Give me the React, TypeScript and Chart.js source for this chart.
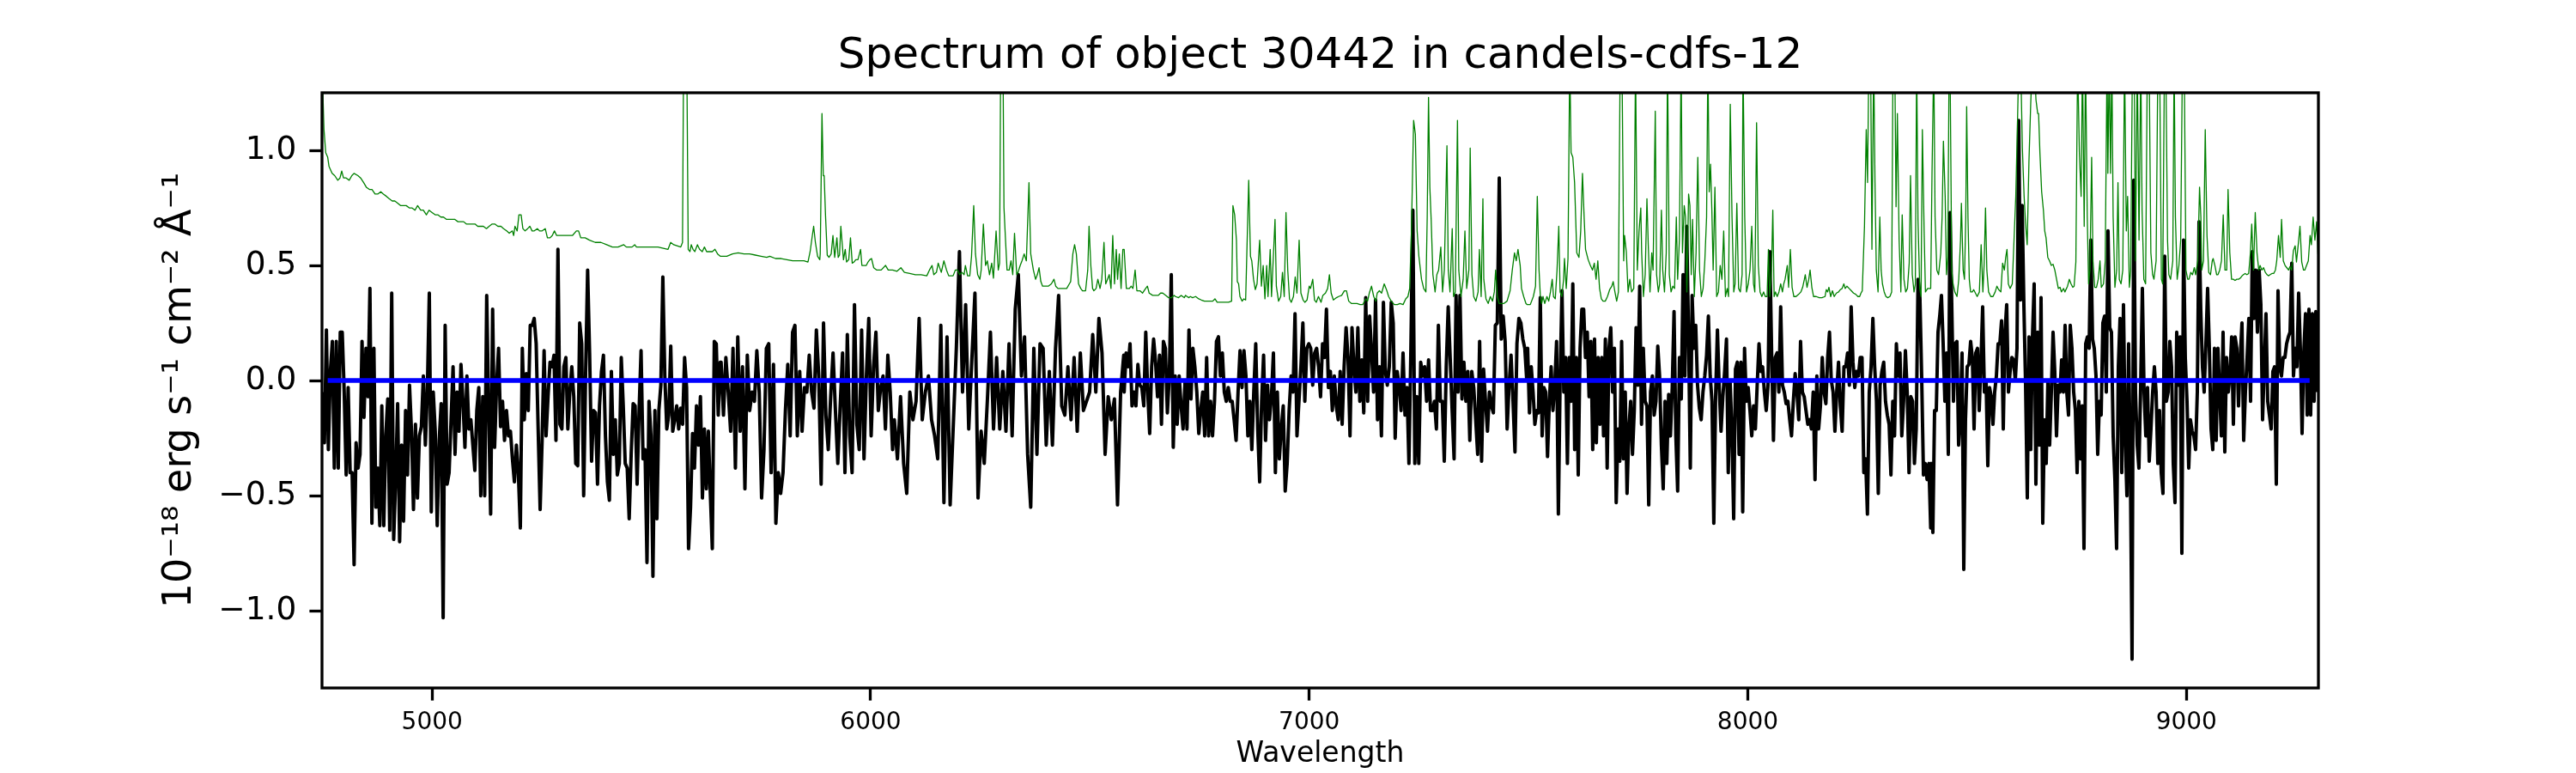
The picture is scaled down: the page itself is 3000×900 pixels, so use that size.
import React, { useEffect, useRef } from 'react';
import Chart from 'chart.js/auto';

const TITLE = 'Spectrum of object 30442 in candels-cdfs-12';
const X_LABEL = 'Wavelength';
const Y_LABEL = '10⁻¹⁸ erg s⁻¹ cm⁻² Å⁻¹';

const X_RANGE = [4749, 9301];
const Y_RANGE = [-1.335, 1.25];
const X_TICKS = [5000, 6000, 7000, 8000, 9000];
const Y_TICKS = [-1.0, -0.5, 0.0, 0.5, 1.0];

const FLUX_STRETCHES = [
  [4750, 5657],
  [5659, 6050],
  [6054, 6577],
  [6578, 7496],
  [7498, 8417],
  [8418, 9299],
];

const flux1 = [
  -0.05, -0.27, 0.22, -0.3, 0.04, 0.17, -0.38, 0.17, -0.38, 0.21,
  0.21, -0.05, -0.41, -0.03, -0.4, -0.4, -0.8, -0.27, -0.38, -0.32,
  0.17, -0.16, 0.14, -0.07, 0.4, -0.62, 0.14, -0.55, -0.38, -0.63,
  -0.11, -0.63, -0.24, -0.08, -0.65, 0.38, -0.69, -0.43, -0.1, -0.7,
  -0.28, -0.61, -0.13, -0.41, -0.02, -0.22, -0.56, -0.19, -0.51, -0.24,
  -0.2, 0.02, -0.28, -0.05, 0.38, -0.57, -0.05, -0.22, -0.63, -0.26,
  -0.1, -1.03, 0.24, -0.45, -0.4, -0.17, 0.06, -0.32, -0.05, -0.22,
  0.07, -0.09, -0.29, 0.02, -0.21, -0.17, -0.28, -0.39, -0.13, -0.03,
  -0.5, -0.07, -0.5, 0.37, -0.13, -0.58, 0.31, -0.29, -0.02, 0.14,
  -0.2, -0.09, -0.26, -0.13, -0.24, -0.22, -0.34, -0.44, -0.28, -0.4,
  -0.64, 0.14, -0.17, 0.03, -0.13, 0.24, 0.24, 0.27, 0.16, -0.21,
  -0.56, -0.26, 0.13, -0.24, -0.07, 0.08, 0.06, 0.11, -0.26, 0.57,
  -0.19, -0.21, 0.06, 0.1, -0.21, -0.05, 0.06, -0.07, -0.36, -0.37,
  0.25, 0.16, -0.5, 0.04, 0.48, 0.12, -0.35, -0.13, -0.14, -0.45,
  -0.11, 0.04, 0.11, -0.24, -0.44, -0.52, 0.04, -0.32, -0.17, -0.41,
  -0.36, 0.1, -0.11, -0.36, -0.38, -0.6, -0.32, -0.1, -0.11, -0.45,
  -0.13, 0.13, -0.34, -0.3, -0.79, -0.09, -0.24, -0.85, -0.13, -0.6,
  -0.13, -0.02, 0.45, 0.02, -0.21, -0.15, 0.15, -0.22, -0.17, -0.11,
  -0.21, -0.12, -0.19, 0.1, -0.03, -0.73, -0.55, -0.23, -0.38, -0.11,
  -0.28, -0.07, -0.51, -0.21, -0.47, -0.22, -0.49, -0.73, 0.17, 0.16,
  -0.15, 0.08,
];

const flux2 = [
  0.08, -0.15, 0.1, -0.05, -0.22, 0.14, -0.38, 0.19, -0.22, 0.06,
  -0.47, 0.11, -0.13, -0.05, -0.09, 0.13, -0.05, -0.51, -0.3, 0.14,
  0.16, -0.4, 0.07, -0.62, -0.4, -0.49, -0.4, -0.13, 0.07, -0.24,
  0.21, 0.24, -0.24, 0.04, -0.22, -0.03, -0.05, 0.11, -0.05, -0.12,
  0.22, 0.02, -0.45, 0.25, -0.15, -0.3, -0.07, 0.12, -0.13, -0.36,
  -0.11, 0.12, -0.4, 0.2, -0.24, -0.4, 0.33, -0.19, -0.3, 0.22,
  -0.34, 0.02, 0.27, -0.24, 0.06, 0.21, -0.13, -0.03, 0.02, -0.21,
  0.11, -0.05, -0.3,
];

const flux3 = [
  -0.17, -0.34, -0.07, -0.36, -0.49, -0.05, -0.17, -0.09, 0.27, -0.17,
  -0.05, 0.02, -0.17, -0.24, -0.34, 0.24, -0.53, 0.19, -0.54, -0.2,
  0.14, 0.56, -0.05, 0.33, -0.21, 0.09, 0.38, -0.51, -0.22, -0.36,
  -0.09, 0.21, -0.21, 0.1, -0.21, 0.04, -0.22, 0.16, -0.24, 0.31,
  0.46, 0.02, 0.19, -0.32, -0.55, 0.14, -0.32, 0.16, 0.14, -0.28,
  0.04, -0.28, 0.14, 0.37, -0.11, -0.15, 0.06, -0.17, 0.1, -0.22,
  0.12, -0.13, -0.09, -0.05, 0.2, -0.05, 0.27, 0.12, -0.32, -0.07,
  -0.17, -0.08, -0.54, -0.05, 0.11,
];

const flux4 = [
  -0.05, 0.12, 0.06, 0.16, -0.11, -0.05, -0.11, 0.07, -0.02, -0.03,
  -0.11, 0.21, -0.05, -0.23, 0.06, 0.18, 0.08, -0.07, 0.11, -0.19,
  0.17, 0.14, -0.14, 0.02, 0.46, -0.29, 0.02, -0.19, 0.02, -0.11,
  -0.21, 0.0, -0.21, 0.22, -0.08, 0.14, 0.06, -0.05, -0.23, -0.13,
  -0.05, -0.24, 0.1, -0.24, -0.09, -0.24, -0.09, 0.17, 0.19, 0.02,
  0.12, -0.05, -0.09, -0.03, -0.09, -0.09, -0.17, -0.26, -0.05, 0.13,
  -0.03, 0.13, 0.02, -0.24, -0.09, -0.3, -0.05, 0.16, -0.21, -0.44,
  -0.09, 0.11, -0.26, -0.02, -0.17, -0.07, 0.12, -0.4, -0.05, -0.34,
  -0.21, -0.11, -0.48, -0.36, -0.13, 0.02, -0.05, 0.29, -0.24, -0.09,
  0.06, 0.25, -0.09, 0.14, 0.16, 0.14, -0.02, 0.12, 0.14, 0.06,
  -0.07, 0.16, 0.1, 0.31, -0.03, 0.04, -0.13, 0.02, -0.11, -0.17,
  0.04, -0.19, 0.06, 0.23, 0.1, -0.24, 0.23, 0.06, -0.05, 0.23,
  -0.09, 0.09, -0.14, 0.36, -0.09, 0.28, 0.12, -0.05, 0.35, -0.17,
  0.06, -0.24, 0.34, 0.04, -0.02, 0.06, 0.34, 0.25, -0.25, 0.04,
  -0.02, -0.13, 0.12, -0.15, -0.03, -0.36, 0.14, 0.74, -0.36, -0.07,
  -0.36, 0.08, 0.02, 0.06, -0.09, 0.09, -0.13, -0.13, -0.09, -0.21,
  0.24, -0.09, -0.09, -0.35, 0.06, 0.32, 0.1, -0.13, -0.34, 0.37,
  -0.05, 0.37, -0.08, 0.08, -0.09, 0.04, -0.26, 0.04, -0.03, -0.17,
  -0.32, 0.17, -0.35, 0.05, -0.09, -0.22, -0.05, -0.11, -0.14, 0.24,
  0.25, 0.88, 0.18, 0.28, 0.17, -0.21, -0.02, 0.11, -0.09, -0.31,
  0.16, 0.27, 0.25, 0.18, 0.14, 0.0,
];

const flux5 = [
  0.14, -0.14, 0.06, -0.05, -0.19, -0.13, -0.14, 0.36, -0.24, -0.03,
  -0.05, -0.33, -0.09, 0.06, -0.13, -0.02, 0.17, -0.58, 0.02, 0.39,
  -0.05, 0.1, -0.36, 0.1, -0.09, 0.42, -0.3, 0.1, -0.41, 0.14,
  0.31, 0.31, 0.1, 0.21, -0.07, 0.17, -0.3, 0.18, -0.27, 0.1,
  -0.19, 0.1, -0.24, 0.18, -0.38, 0.14, 0.23, -0.05, 0.14, -0.53,
  -0.21, -0.35, 0.17, -0.34, -0.05, -0.49, -0.21, -0.09, -0.32, -0.13,
  0.23, -0.02, 0.41, -0.19, 0.14, -0.09, -0.11, -0.54, -0.05, 0.02,
  -0.15, -0.09, 0.15, 0.02, -0.28, -0.47, -0.09, -0.36, -0.06, -0.24,
  -0.03, 0.3, -0.24, -0.48, 0.1, -0.08, 0.46, 0.02, 0.67, 0.21,
  -0.38, 0.37, 0.14, 0.24, -0.02, -0.12, -0.17, -0.05, 0.02, 0.11,
  0.28, 0.02, -0.09, -0.62, -0.07, 0.22, -0.03, -0.22, -0.07, 0.04,
  0.18, -0.4, 0.0, -0.21, -0.6, 0.05, 0.08, -0.32, 0.08, -0.57,
  0.14, -0.09, -0.03, -0.13, -0.24, -0.11, -0.21, -0.02, 0.16, 0.04,
  0.06, -0.05, -0.13, -0.02, 0.56, 0.12, -0.26, 0.1, 0.12, -0.05,
  0.32, -0.02, -0.05, -0.1, -0.09, -0.17, -0.24, -0.09, 0.03, -0.05,
  -0.17, 0.17, -0.05, -0.07, -0.13, -0.19, -0.17, -0.21, -0.05, -0.43,
  0.02, -0.21, -0.11, 0.1, -0.05, -0.1, 0.1, 0.21, 0.0, -0.05,
  -0.22, -0.05, 0.08, -0.11, -0.22, 0.06, 0.06, 0.12, -0.02, 0.32,
  0.08, -0.03, 0.04, 0.02, 0.1, 0.1, -0.4, -0.34, -0.58, -0.05,
  0.06, 0.27, 0.06, -0.09, -0.49, -0.02, 0.04, 0.08, -0.09, -0.15,
  -0.19, -0.41, -0.09, -0.24, 0.16, 0.02, 0.12, -0.24, -0.09, 0.13,
  -0.05, -0.4, -0.07, -0.09, -0.36, -0.21, 0.44, 0.37, 0.02, -0.41,
  -0.36, -0.43, -0.36, -0.64,
];

const flux6 = [
  -0.36, -0.66, -0.13, -0.13, 0.21, 0.28, 0.37, 0.16, -0.09, 0.12,
  -0.32, 0.73, 0.33, -0.09, 0.16, 0.17, -0.28, -0.15, 0.12, -0.82,
  -0.17, 0.06, 0.07, 0.17, 0.1, -0.21, 0.12, 0.14, -0.13, 0.08,
  0.32, -0.05, 0.0, -0.37, -0.03, -0.07, -0.19, -0.05, 0.02, 0.16,
  0.16, 0.26, -0.21, 0.21, 0.33, -0.05, 0.04, 0.1, 0.09, 0.0,
  0.14, 1.13, 0.35, 0.76, 0.33, -0.02, -0.51, 0.19, -0.3, 0.19,
  0.42, -0.45, 0.21, -0.28, 0.36, -0.62, -0.17, -0.36, 0.0, -0.28,
  -0.05, 0.21, 0.04, -0.24, -0.02, -0.05, 0.09, -0.05, 0.24, -0.05,
  -0.15, 0.24, 0.14, -0.05, -0.13, -0.4, -0.09, -0.34, -0.11, -0.73,
  0.16, 0.19, 0.14, 0.61, 0.18, 0.14, 0.02, -0.32, -0.09, -0.15,
  0.25, 0.28, -0.05, 0.65, 0.23, 0.21, -0.24, -0.43, -0.73, 0.06,
  0.27, -0.4, 0.33, -0.24, -0.5, 0.16, -0.36, -1.21, 0.87, -0.05,
  -0.28, -0.38, -0.03, 0.4, -0.05, -0.24, -0.03, -0.35, -0.21, -0.05,
  0.06, -0.05, -0.36, -0.13, -0.4, -0.49, 0.54, -0.09, -0.05, 0.17,
  0.06, -0.36, -0.53, 0.21, -0.02, 0.19, -0.75, 0.61, 0.1, -0.09,
  -0.38, -0.17, -0.22, -0.24, -0.3, -0.05, 0.69, 0.31, 0.06, -0.05,
  0.16, 0.4, 0.14, -0.21, -0.3, 0.14, -0.26, 0.14, -0.05, -0.24,
  0.21, -0.31, 0.1, -0.05, 0.02, 0.19, -0.19, 0.19, 0.14, -0.11,
  0.1, 0.25, -0.26, -0.05, 0.1, 0.27, -0.09, 0.56, 0.27, 0.48,
  0.21, 0.48, 0.33, -0.17, 0.06, 0.29, -0.09, -0.15, -0.21, 0.04,
  0.06, -0.45, 0.39, 0.06, 0.02, 0.1, 0.1, 0.16, 0.19, 0.21,
  0.51, 0.02, 0.14, 0.06, 0.38, 0.14, -0.23, 0.12, 0.29, -0.15,
  0.31, -0.15, 0.29, -0.09, 0.3, -0.05,
];

const fluxValues = [flux1, flux2, flux3, flux4, flux5, flux6];

// error / sky spectrum (green): [wavelength, value]; tall sky lines run past the top of the frame
const noise: [number, number][] = [
  [4749, 1.4], [4751, 1.25], [4753.5, 1.09], [4757.5, 0.99], [4762, 0.97], [4765, 0.93],
  [4772, 0.9], [4778, 0.89], [4785, 0.87], [4790, 0.88], [4794, 0.91], [4798, 0.88],
  [4804, 0.88], [4811, 0.87], [4817, 0.89], [4822, 0.9], [4831, 0.89], [4837, 0.88],
  [4844, 0.86], [4850, 0.84], [4857, 0.83], [4863, 0.83], [4870, 0.81], [4876, 0.81],
  [4883, 0.82], [4889, 0.81], [4896, 0.8], [4902, 0.79], [4909, 0.78], [4915, 0.78],
  [4922, 0.77], [4928, 0.76], [4935, 0.76], [4941, 0.76], [4948, 0.75], [4954, 0.75],
  [4961, 0.74], [4967, 0.76], [4974, 0.74], [4980, 0.74], [4987, 0.72], [4993, 0.74],
  [5000, 0.73], [5007, 0.72], [5013, 0.72], [5020, 0.71], [5026, 0.71], [5033, 0.7],
  [5039, 0.7], [5046, 0.7], [5052, 0.7], [5059, 0.69], [5065, 0.69], [5072, 0.69],
  [5078, 0.68], [5085, 0.68], [5091, 0.68], [5098, 0.68], [5104, 0.67], [5111, 0.67],
  [5117, 0.67], [5124, 0.66], [5130, 0.67], [5137, 0.68], [5143, 0.68], [5150, 0.67],
  [5157, 0.67], [5163, 0.66], [5170, 0.65], [5176, 0.64], [5183, 0.65], [5186, 0.63],
  [5189, 0.67], [5194, 0.65], [5198, 0.72], [5203, 0.72], [5207, 0.66], [5212, 0.65],
  [5218, 0.66], [5223, 0.67], [5228, 0.65], [5233, 0.65], [5240, 0.66], [5245, 0.65],
  [5251, 0.65], [5258, 0.66], [5263, 0.62], [5269, 0.62], [5274, 0.63], [5279, 0.65],
  [5284, 0.63], [5293, 0.63], [5306, 0.63], [5320, 0.63], [5329, 0.65], [5334, 0.65],
  [5339, 0.62], [5349, 0.62], [5359, 0.61], [5372, 0.6], [5385, 0.6], [5398, 0.59],
  [5411, 0.58], [5424, 0.58], [5437, 0.59], [5443, 0.58], [5450, 0.58], [5456, 0.58],
  [5462, 0.59], [5466, 0.58], [5489, 0.58], [5515, 0.58], [5538, 0.57], [5544, 0.6],
  [5551, 0.59], [5567, 0.58], [5571, 0.6], [5574, 1.6], [5580, 1.6], [5584, 0.57],
  [5588, 0.56], [5591, 0.59], [5595, 0.57], [5599, 0.56], [5605, 0.59], [5610, 0.57],
  [5616, 0.56], [5621, 0.58], [5626, 0.56], [5639, 0.56], [5645, 0.57], [5651, 0.55],
  [5657, 0.54], [5672, 0.54], [5685, 0.55], [5698, 0.555], [5711, 0.55], [5724, 0.55],
  [5737, 0.545], [5750, 0.54], [5763, 0.535], [5770, 0.54], [5783, 0.53], [5796, 0.53],
  [5809, 0.525], [5822, 0.52], [5835, 0.52], [5848, 0.52], [5857, 0.515], [5862, 0.56],
  [5867, 0.63], [5870, 0.67], [5874, 0.6], [5879, 0.54], [5884, 0.525], [5885, 0.55],
  [5889, 1.16], [5892, 0.89], [5894, 0.89], [5897, 0.72], [5901, 0.545], [5905, 0.535],
  [5910, 0.55], [5914, 0.63], [5918, 0.535], [5923, 0.62], [5926, 0.535], [5929, 0.545],
  [5932, 0.67], [5938, 0.525], [5942, 0.57], [5945, 0.515], [5950, 0.525], [5954, 0.62],
  [5958, 0.51], [5962, 0.515], [5966, 0.525], [5971, 0.525], [5977, 0.57], [5980, 0.5],
  [5985, 0.5], [5990, 0.5], [5994, 0.515], [5998, 0.525], [6002, 0.53], [6007, 0.49],
  [6014, 0.48], [6024, 0.48], [6034, 0.5], [6040, 0.48], [6050, 0.48], [6060, 0.475],
  [6069, 0.49], [6077, 0.47], [6089, 0.465], [6102, 0.46], [6115, 0.46], [6128, 0.455],
  [6134, 0.48], [6140, 0.5], [6144, 0.46], [6150, 0.47], [6154, 0.51], [6161, 0.47],
  [6167, 0.52], [6173, 0.48], [6178, 0.455], [6183, 0.455], [6188, 0.455], [6193, 0.48],
  [6198, 0.48], [6203, 0.46], [6208, 0.47], [6213, 0.46], [6216, 0.5], [6221, 0.455],
  [6226, 0.455], [6230, 0.54], [6235, 0.76], [6239, 0.55], [6244, 0.46], [6249, 0.44],
  [6252, 0.48], [6257, 0.68], [6262, 0.5], [6266, 0.52], [6271, 0.46], [6276, 0.51],
  [6280, 0.445], [6286, 0.65], [6291, 0.48], [6294, 0.51], [6297, 1.6], [6301, 1.6],
  [6304, 0.75], [6307, 0.63], [6311, 0.48], [6316, 0.48], [6320, 0.52], [6324, 0.46],
  [6328, 0.64], [6333, 0.46], [6336, 0.47], [6341, 0.5], [6345, 0.52], [6350, 0.55],
  [6355, 0.52], [6361, 0.86], [6365, 0.55], [6371, 0.48], [6376, 0.44], [6380, 0.46],
  [6384, 0.49], [6388, 0.43], [6392, 0.41], [6399, 0.41], [6405, 0.41], [6412, 0.42],
  [6418, 0.44], [6422, 0.41], [6427, 0.4], [6434, 0.4], [6441, 0.4], [6447, 0.4],
  [6453, 0.42], [6456, 0.43], [6461, 0.55], [6465, 0.59], [6469, 0.55], [6474, 0.42],
  [6479, 0.4], [6483, 0.39], [6490, 0.39], [6495, 0.48], [6498, 0.67], [6502, 0.5],
  [6506, 0.4], [6509, 0.39], [6514, 0.4], [6518, 0.44], [6523, 0.4], [6527, 0.44],
  [6532, 0.6], [6536, 0.42], [6540, 0.44], [6544, 0.46], [6548, 0.4], [6552, 0.63],
  [6556, 0.42], [6560, 0.57], [6563, 0.44], [6567, 0.55], [6571, 0.4], [6575, 0.57],
  [6578, 0.57], [6583, 0.4], [6590, 0.4], [6594, 0.41], [6598, 0.4], [6603, 0.48],
  [6607, 0.39], [6614, 0.39], [6620, 0.38], [6627, 0.4], [6631, 0.41], [6635, 0.38],
  [6643, 0.37], [6650, 0.37], [6656, 0.37], [6661, 0.38], [6666, 0.38], [6673, 0.37],
  [6679, 0.36], [6686, 0.36], [6692, 0.37], [6695, 0.365], [6702, 0.36], [6708, 0.37],
  [6715, 0.36], [6718, 0.37], [6725, 0.36], [6729, 0.365], [6734, 0.36], [6741, 0.365],
  [6748, 0.355], [6754, 0.35], [6761, 0.345], [6767, 0.345], [6774, 0.345], [6780, 0.345],
  [6785, 0.355], [6790, 0.34], [6797, 0.34], [6803, 0.34], [6810, 0.34], [6816, 0.34],
  [6823, 0.345], [6826, 0.76], [6830, 0.72], [6834, 0.61], [6836, 0.43], [6839, 0.42],
  [6842, 0.365], [6847, 0.345], [6851, 0.355], [6855, 0.35], [6862, 0.87], [6866, 0.54],
  [6869, 0.52], [6873, 0.44], [6877, 0.395], [6881, 0.42], [6887, 0.61], [6891, 0.41],
  [6895, 0.5], [6899, 0.355], [6903, 0.5], [6906, 0.365], [6911, 0.57], [6914, 0.365],
  [6918, 0.53], [6922, 0.7], [6925, 0.41], [6930, 0.345], [6935, 0.365], [6939, 0.47],
  [6943, 0.365], [6947, 0.73], [6951, 0.48], [6955, 0.355], [6959, 0.34], [6964, 0.365],
  [6968, 0.45], [6972, 0.38], [6977, 0.61], [6981, 0.38], [6986, 0.35], [6990, 0.34],
  [6995, 0.35], [7000, 0.41], [7003, 0.4], [7008, 0.44], [7012, 0.35], [7016, 0.34],
  [7021, 0.365], [7027, 0.34], [7031, 0.37], [7037, 0.38], [7042, 0.4], [7046, 0.46],
  [7050, 0.38], [7055, 0.35], [7062, 0.36], [7067, 0.365], [7074, 0.37], [7080, 0.39],
  [7085, 0.39], [7090, 0.345], [7096, 0.335], [7103, 0.335], [7109, 0.335], [7116, 0.33],
  [7122, 0.33], [7129, 0.355], [7133, 0.345], [7137, 0.38], [7142, 0.41], [7147, 0.365],
  [7152, 0.345], [7155, 0.38], [7160, 0.39], [7165, 0.38], [7171, 0.42], [7177, 0.39],
  [7181, 0.365], [7187, 0.345], [7194, 0.33], [7201, 0.33], [7207, 0.335], [7214, 0.33],
  [7220, 0.355], [7225, 0.365], [7229, 0.4], [7233, 0.65], [7238, 1.13], [7242, 1.07],
  [7246, 0.65], [7250, 0.54], [7256, 0.44], [7261, 0.4], [7266, 0.385], [7269, 0.71],
  [7272, 1.23], [7275, 0.84], [7278, 0.7], [7282, 0.46], [7287, 0.385], [7291, 0.46],
  [7295, 0.48], [7300, 0.58], [7304, 0.385], [7308, 0.48], [7314, 1.02], [7317, 0.48],
  [7321, 0.385], [7326, 0.66], [7329, 0.365], [7333, 0.385], [7338, 1.13], [7341, 0.48],
  [7346, 0.365], [7351, 0.44], [7355, 0.65], [7359, 0.4], [7364, 0.48], [7367, 1.01],
  [7371, 0.46], [7375, 0.365], [7380, 0.345], [7385, 0.385], [7388, 0.57], [7392, 0.365],
  [7396, 0.79], [7398, 0.44], [7403, 0.355], [7408, 0.335], [7413, 0.365], [7418, 0.345],
  [7422, 0.385], [7425, 0.48], [7429, 0.365], [7433, 0.335], [7438, 0.335], [7444, 0.335],
  [7451, 0.345], [7458, 0.39], [7463, 0.48], [7468, 0.555], [7472, 0.52], [7476, 0.57],
  [7481, 0.5], [7484, 0.4], [7489, 0.365], [7494, 0.335], [7497, 0.33], [7504, 0.33],
  [7511, 0.365], [7516, 0.41], [7520, 0.8], [7524, 0.48], [7527, 0.365], [7530, 0.335],
  [7533, 0.365], [7537, 0.335], [7542, 0.365], [7546, 0.345], [7550, 0.385], [7554, 0.44],
  [7557, 0.365], [7561, 0.355], [7565, 0.48], [7569, 0.67], [7572, 0.385], [7576, 0.365],
  [7580, 0.44], [7582, 0.53], [7586, 0.4], [7590, 0.53], [7594, 1.4], [7597, 0.99],
  [7601, 0.97], [7605, 0.86], [7610, 0.555], [7615, 0.535], [7619, 0.65], [7623, 0.9],
  [7627, 0.7], [7630, 0.57], [7636, 0.525], [7641, 0.5], [7646, 0.48], [7650, 0.51],
  [7654, 0.44], [7658, 0.52], [7662, 0.4], [7666, 0.355], [7670, 0.345], [7675, 0.345],
  [7680, 0.365], [7685, 0.395], [7690, 0.41], [7693, 0.43], [7697, 0.385], [7701, 0.345],
  [7705, 0.385], [7709, 1.4], [7713, 1.4], [7717, 0.52], [7719, 0.63], [7723, 0.56],
  [7727, 0.385], [7731, 0.44], [7735, 0.385], [7740, 0.4], [7744, 1.4], [7748, 0.48],
  [7752, 0.65], [7756, 0.75], [7758, 0.555], [7762, 0.365], [7766, 0.46], [7770, 0.79],
  [7773, 0.59], [7777, 0.385], [7781, 0.555], [7784, 0.48], [7789, 1.17], [7792, 0.46],
  [7796, 0.385], [7799, 0.42], [7803, 0.74], [7806, 0.48], [7810, 0.385], [7814, 0.555],
  [7817, 1.4], [7821, 0.46], [7825, 0.385], [7829, 0.41], [7833, 0.4], [7837, 0.71],
  [7840, 0.44], [7844, 0.61], [7848, 1.4], [7851, 0.555], [7855, 0.76], [7858, 0.71],
  [7861, 0.385], [7865, 0.81], [7868, 0.76], [7871, 0.46], [7874, 0.7], [7878, 0.365],
  [7882, 0.555], [7886, 0.97], [7890, 0.48], [7894, 0.365], [7898, 0.4], [7902, 0.52],
  [7906, 0.71], [7909, 1.4], [7912, 0.82], [7915, 0.94], [7918, 0.74], [7921, 0.48],
  [7925, 0.84], [7929, 0.365], [7933, 0.385], [7937, 0.5], [7941, 0.44], [7945, 0.65],
  [7949, 0.365], [7953, 0.4], [7956, 0.365], [7960, 1.2], [7964, 0.71], [7968, 0.385],
  [7971, 0.42], [7975, 0.77], [7979, 0.4], [7983, 0.385], [7987, 0.46], [7989, 1.4],
  [7993, 0.71], [7997, 0.385], [8001, 0.42], [8005, 0.48], [8009, 0.67], [8013, 0.42],
  [8016, 0.385], [8020, 1.12], [8024, 0.5], [8028, 0.385], [8032, 0.365], [8036, 0.385],
  [8040, 0.365], [8044, 0.365], [8047, 0.57], [8050, 0.365], [8054, 0.48], [8057, 0.74],
  [8060, 0.365], [8063, 0.385], [8067, 0.365], [8071, 0.385], [8075, 0.42], [8079, 0.385],
  [8082, 0.42], [8085, 0.44], [8090, 0.5], [8093, 0.405], [8097, 0.57], [8101, 0.405],
  [8105, 0.365], [8110, 0.365], [8116, 0.375], [8121, 0.385], [8125, 0.405], [8129, 0.44],
  [8131, 0.46], [8135, 0.405], [8139, 0.44], [8142, 0.48], [8146, 0.405], [8150, 0.365],
  [8156, 0.365], [8163, 0.36], [8169, 0.36], [8176, 0.365], [8179, 0.395], [8182, 0.385],
  [8185, 0.405], [8189, 0.365], [8193, 0.39], [8197, 0.365], [8202, 0.38], [8207, 0.385],
  [8211, 0.395], [8215, 0.4], [8219, 0.42], [8222, 0.4], [8226, 0.41], [8231, 0.4],
  [8236, 0.39], [8241, 0.38], [8246, 0.375], [8251, 0.365], [8255, 0.365], [8258, 0.38],
  [8261, 0.39], [8266, 0.67], [8270, 1.09], [8273, 0.86], [8276, 1.4], [8280, 1.4],
  [8283, 0.57], [8287, 1.4], [8290, 0.86], [8293, 0.48], [8297, 0.385], [8301, 0.71],
  [8304, 0.48], [8307, 0.42], [8311, 0.385], [8315, 0.365], [8319, 0.36], [8324, 0.365],
  [8328, 0.385], [8331, 1.4], [8335, 1.4], [8338, 0.755], [8341, 1.16], [8345, 0.61],
  [8349, 0.385], [8352, 0.72], [8356, 0.44], [8360, 0.385], [8364, 0.4], [8368, 0.51],
  [8371, 0.89], [8375, 0.46], [8379, 0.385], [8382, 0.42], [8385, 1.4], [8388, 0.7],
  [8392, 0.4], [8395, 0.365], [8398, 1.09], [8402, 0.65], [8405, 0.385], [8410, 0.4],
  [8417, 0.4], [8420, 0.9], [8424, 1.4], [8427, 0.71], [8431, 0.48], [8435, 0.46],
  [8440, 0.555], [8443, 0.71], [8446, 1.04], [8450, 0.8], [8453, 0.46], [8456, 0.535],
  [8459, 1.4], [8461, 1.4], [8465, 0.48], [8468, 0.42], [8472, 0.385], [8477, 0.365],
  [8481, 0.44], [8485, 0.61], [8487, 0.77], [8491, 0.48], [8494, 0.44], [8497, 0.71],
  [8499, 1.19], [8502, 0.71], [8505, 0.44], [8508, 0.385], [8512, 0.385], [8515, 0.395],
  [8519, 0.38], [8523, 0.365], [8528, 0.385], [8532, 0.59], [8536, 0.385], [8539, 0.51],
  [8542, 0.75], [8545, 0.48], [8549, 0.385], [8554, 0.365], [8559, 0.365], [8564, 0.385],
  [8568, 0.41], [8572, 0.395], [8577, 0.385], [8581, 0.51], [8585, 0.48], [8588, 0.535],
  [8591, 0.57], [8594, 0.42], [8598, 0.4], [8603, 0.42], [8607, 0.61], [8611, 0.8],
  [8615, 1.13], [8618, 1.4], [8622, 1.4], [8626, 1.01], [8630, 0.8], [8633, 0.69],
  [8637, 0.59], [8641, 0.95], [8645, 1.2], [8649, 1.4], [8653, 1.4], [8657, 1.22],
  [8661, 1.16], [8663, 1.16], [8666, 0.99], [8670, 0.82], [8674, 0.74], [8677, 0.65],
  [8680, 0.62], [8684, 0.535], [8688, 0.52], [8692, 0.5], [8696, 0.505], [8700, 0.48],
  [8704, 0.44], [8708, 0.4], [8712, 0.405], [8715, 0.385], [8720, 0.4], [8723, 0.385],
  [8729, 0.41], [8733, 0.44], [8737, 0.42], [8741, 0.405], [8744, 0.41], [8748, 0.515],
  [8752, 1.4], [8756, 0.99], [8760, 0.8], [8763, 1.4], [8767, 0.67], [8770, 1.4],
  [8774, 0.71], [8777, 0.42], [8780, 0.48], [8784, 0.97], [8787, 0.52], [8791, 0.405],
  [8795, 0.405], [8799, 0.44], [8803, 0.52], [8806, 0.405], [8811, 0.42], [8815, 0.52],
  [8819, 1.4], [8821, 0.9], [8824, 1.4], [8827, 0.9], [8830, 1.4], [8833, 0.71],
  [8837, 0.405], [8841, 0.48], [8844, 0.86], [8847, 0.44], [8851, 0.42], [8855, 0.48],
  [8859, 1.4], [8863, 0.65], [8866, 0.8], [8870, 0.405], [8873, 0.48], [8877, 1.4],
  [8881, 1.4], [8884, 0.52], [8888, 1.4], [8892, 0.61], [8896, 1.4], [8899, 0.74],
  [8903, 0.44], [8907, 0.42], [8911, 1.4], [8915, 1.4], [8919, 0.555], [8923, 0.46],
  [8926, 0.44], [8931, 0.52], [8935, 1.4], [8939, 1.4], [8943, 0.44], [8946, 0.42],
  [8950, 1.4], [8953, 1.4], [8957, 0.61], [8960, 0.46], [8964, 0.44], [8969, 0.52],
  [8972, 1.4], [8975, 0.71], [8979, 0.44], [8983, 0.5], [8987, 0.61], [8991, 1.4],
  [8995, 1.4], [8999, 0.48], [9003, 0.44], [9006, 0.44], [9010, 0.47], [9014, 0.46],
  [9018, 0.49], [9021, 0.46], [9026, 0.52], [9030, 0.84], [9033, 0.71], [9035, 0.48],
  [9039, 0.52], [9043, 1.09], [9047, 0.63], [9051, 0.47], [9055, 0.46], [9059, 0.52],
  [9061, 0.53], [9065, 0.5], [9069, 0.46], [9072, 0.46], [9076, 0.48], [9080, 0.52],
  [9084, 0.72], [9088, 0.48], [9092, 0.48], [9095, 0.83], [9099, 0.555], [9103, 0.44],
  [9107, 0.44], [9111, 0.435], [9115, 0.44], [9119, 0.44], [9123, 0.445], [9127, 0.455],
  [9130, 0.46], [9134, 0.465], [9138, 0.46], [9142, 0.465], [9146, 0.555], [9149, 0.68],
  [9153, 0.48], [9157, 0.73], [9161, 0.555], [9165, 0.48], [9168, 0.5], [9172, 0.48],
  [9176, 0.49], [9180, 0.47], [9184, 0.46], [9187, 0.455], [9191, 0.46], [9195, 0.465],
  [9199, 0.465], [9203, 0.48], [9206, 0.52], [9210, 0.63], [9214, 0.535], [9217, 0.7],
  [9221, 0.52], [9225, 0.5], [9229, 0.49], [9233, 0.48], [9236, 0.495], [9240, 0.48],
  [9244, 0.565], [9248, 0.585], [9251, 0.515], [9255, 0.59], [9259, 0.67], [9263, 0.515],
  [9267, 0.48], [9270, 0.48], [9274, 0.5], [9278, 0.52], [9282, 0.63], [9285, 0.59],
  [9289, 0.71], [9293, 0.61], [9297, 0.69], [9300, 0.55],
];

const zeroLine: [number, number][] = [[4762, 0], [9281, 0]];

const FONT = "'DejaVu Sans', sans-serif";

function fluxPoints() {
  const pts: { x: number; y: number }[] = [];
  fluxValues.forEach((vals, k) => {
    const [from, to] = FLUX_STRETCHES[k];
    const step = (to - from) / (vals.length - 1);
    vals.forEach((v, i) => pts.push({ x: from + i * step, y: v }));
  });
  return pts;
}

const toXY = (list: [number, number][]) => list.map(([x, y]) => ({ x, y }));

const formatY = (v: number) => (v < 0 ? '\u2212' + Math.abs(v).toFixed(1) : v.toFixed(1));

// matplotlib-style box around the axes
const framePlugin = {
  id: 'frame',
  afterDatasetsDraw(chart: Chart) {
    const { ctx, chartArea: a } = chart;
    ctx.save();
    ctx.strokeStyle = '#000';
    ctx.lineWidth = 3.3;
    ctx.strokeRect(a.left, a.top, a.right - a.left, a.bottom - a.top);
    ctx.restore();
  },
};

const tickGrid = {
  drawOnChartArea: false,
  drawTicks: true,
  tickLength: 14.6,
  tickWidth: 3.3,
  tickColor: '#000',
};

const App: React.FC = () => {
  const canvasRef = useRef<HTMLCanvasElement>(null);
  const chartRef = useRef<Chart | null>(null);

  useEffect(() => {
    if (!canvasRef.current) return;
    if (chartRef.current) chartRef.current.destroy();

    chartRef.current = new Chart(canvasRef.current, {
      type: 'line',
      data: {
        datasets: [
          {
            label: 'zero',
            data: toXY(zeroLine),
            borderColor: '#0000ff',
            borderWidth: 5.5,
            pointRadius: 0,
          },
          {
            label: 'error',
            data: toXY(noise),
            borderColor: '#008000',
            borderWidth: 1.3,
            borderJoinStyle: 'round',
            pointRadius: 0,
          },
          {
            label: 'flux',
            data: fluxPoints(),
            borderColor: '#000000',
            borderWidth: 4,
            borderJoinStyle: 'round',
            pointRadius: 0,
          },
        ],
      },
      options: {
        animation: false,
        responsive: false,
        devicePixelRatio: 1,
        events: [],
        parsing: false,
        layout: { padding: { left: 0, right: 300, top: 0, bottom: 0 } },
        elements: { line: { tension: 0 } },
        plugins: {
          legend: { display: false },
          tooltip: { enabled: false },
          title: {
            display: true,
            text: TITLE,
            color: '#000',
            fullSize: false,
            font: { family: FONT, size: 50, weight: 'normal' },
            padding: { top: 36, bottom: 12 },
          },
        },
        scales: {
          x: {
            type: 'linear',
            min: X_RANGE[0],
            max: X_RANGE[1],
            afterBuildTicks: (s: any) => {
              s.ticks = X_TICKS.map((value) => ({ value }));
            },
            afterFit: (s: any) => {
              s.height = 99;
            },
            ticks: {
              color: '#000',
              font: { family: FONT, size: 28 },
              padding: 9,
              maxRotation: 0,
              autoSkip: false,
              callback: (v: any) => String(v),
            },
            grid: tickGrid,
            border: { display: false },
            title: {
              display: true,
              text: X_LABEL,
              color: '#000',
              font: { family: FONT, size: 33 },
              padding: { top: 0, bottom: 2 },
            },
          },
          y: {
            type: 'linear',
            min: Y_RANGE[0],
            max: Y_RANGE[1],
            afterBuildTicks: (s: any) => {
              s.ticks = Y_TICKS.map((value) => ({ value }));
            },
            afterFit: (s: any) => {
              s.width = 375;
            },
            ticks: {
              color: '#000',
              font: { family: FONT, size: 37.5 },
              padding: 15,
              autoSkip: false,
              callback: (v: any) => formatY(Number(v)),
            },
            grid: tickGrid,
            border: { display: false },
            title: {
              display: true,
              text: Y_LABEL,
              color: '#000',
              font: { family: FONT, size: 46 },
              padding: { top: 182, bottom: 0 },
            },
          },
        },
      },
      plugins: [framePlugin],
    });

    return () => {
      if (chartRef.current) {
        chartRef.current.destroy();
        chartRef.current = null;
      }
    };
  }, []);

  return (
    <div style={{ position: 'absolute', left: 0, top: 0, width: 3000, height: 900, background: '#fff' }}>
      <canvas ref={canvasRef} width={3000} height={900} style={{ display: 'block' }} />
    </div>
  );
};

export default App;
